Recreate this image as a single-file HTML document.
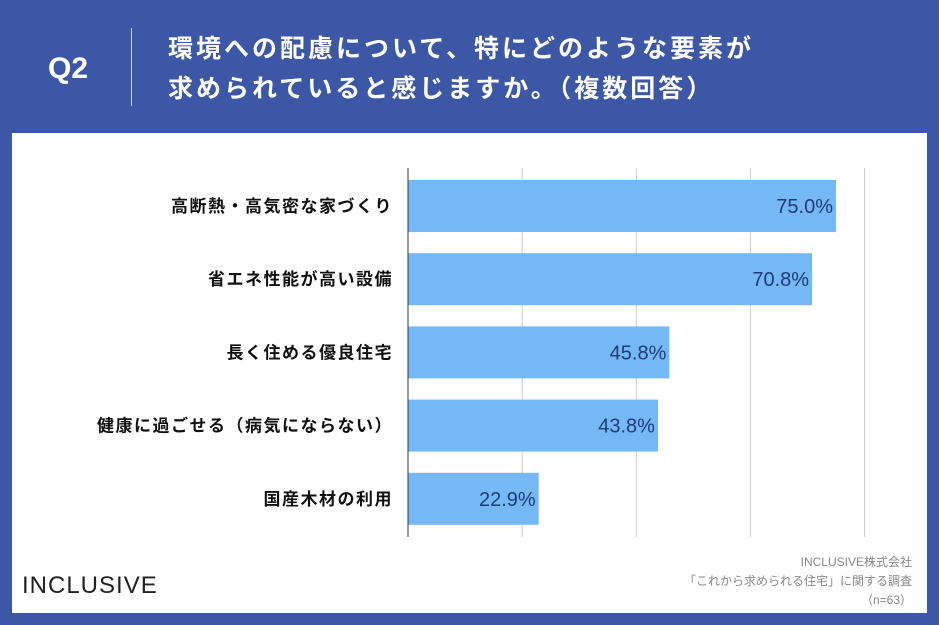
<!DOCTYPE html>
<html><head><meta charset="utf-8"><style>
html,body{margin:0;padding:0;}
body{width:939px;height:625px;background:#3b57a6;position:relative;overflow:hidden;font-family:"Liberation Sans","Noto Sans CJK JP",sans-serif;}
.q{position:absolute;left:48px;top:52px;color:#fff;font-size:30px;font-weight:bold;}
.sep{position:absolute;left:131px;top:28px;width:1px;height:78px;background:#c8d0e8;}
.title{position:absolute;left:168px;top:29px;color:#fff;font-size:25px;font-weight:bold;line-height:40px;letter-spacing:3px;white-space:nowrap;}
.card{position:absolute;left:12px;top:133px;width:915px;height:480px;background:#fff;}
</style></head><body>
<div class="q">Q2</div>
<div class="sep"></div>
<div class="title">環境への配慮について、特にどのような要素が<br>求められていると感じますか。（複数回答）</div>
<div class="card"></div>
<svg id="chart" width="939" height="625" style="position:absolute;left:0;top:0"></svg>
<script>
const categories=["高断熱・高気密な家づくり","省エネ性能が高い設備","長く住める優良住宅","健康に過ごせる（病気にならない）","国産木材の利用"];
const values=[75.0,70.8,45.8,43.8,22.9];
const gridTicks=[20,40,60,80];
const ns="http://www.w3.org/2000/svg";
const svg=document.getElementById('chart');
const x0=408,pxPer=5.707,top0=180,pitch=73.2,barH=52;
const xs=v=>x0+v*pxPer;
function mk(t,a){const e=document.createElementNS(ns,t);for(const k in a)e.setAttribute(k,a[k]);svg.appendChild(e);return e;}
gridTicks.forEach(t=>{
  const l=mk('line',{x1:xs(t),x2:xs(t),y1:168,y2:537,stroke:'#cccccc','stroke-width':1});
  
  
});
categories.forEach((c,i)=>{
  const y=top0+i*pitch;
  const r=mk('rect',{x:x0,y:y,width:values[i]*pxPer,height:barH,fill:'#74b9f5'});
  
  
  const v=mk('text',{x:xs(values[i])-3,y:y+barH/2+7,'text-anchor':'end','font-size':20,fill:'#1d3c78','font-family':'Liberation Sans, sans-serif'});
  v.textContent=values[i].toFixed(1)+'%';
  
  
  const lb=mk('text',{x:393,y:y+barH/2+6,'text-anchor':'end','font-size':17,'font-weight':'bold',fill:'#111','letter-spacing':'1.5','font-family':'Liberation Sans, Noto Sans CJK JP, sans-serif'});
  lb.textContent=c;
  
  
});
const ax=mk('line',{x1:x0,x2:x0,y1:168,y2:537,stroke:'#333','stroke-width':1});


const logo=mk('text',{x:22,y:593,'font-size':24,fill:'#222','font-family':'Liberation Sans, sans-serif','letter-spacing':'1'});
logo.textContent='INCLUSIVE';


[['INCLUSIVE株式会社',566],['「これから求められる住宅」に関する調査',585],['（n=63）',604]].forEach((s,i)=>{
  const t=mk('text',{x:912,y:s[1],'text-anchor':'end','font-size':12,fill:'#888','font-family':'Liberation Sans, Noto Sans CJK JP, sans-serif'});
  t.textContent=s[0];
  
  
});
</script>
</body></html>
